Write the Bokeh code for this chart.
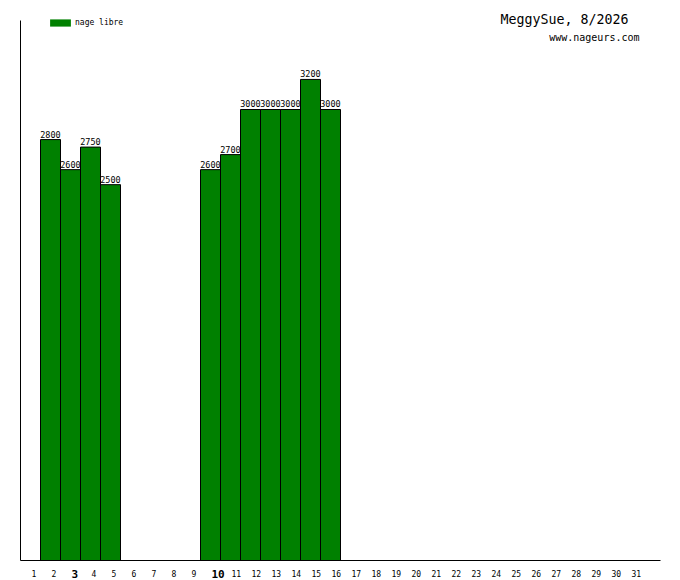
from bokeh.plotting import figure
from bokeh.models import (ColumnDataSource, LabelSet, Label, Legend, LegendItem,
                          FixedTicker, Range1d)
from bokeh.core.properties import value, field
from bokeh.embed import file_html
from bokeh.resources import INLINE

# ---- data ----
month_days = list(range(1, 32))
bold_days = [3, 10]
swim_days = [2, 3, 4, 5, 10, 11, 12, 13, 14, 15, 16]
swim_metres = [2800, 2600, 2750, 2500, 2600, 2700, 3000, 3000, 3000, 3200, 3000]
series_name = "nage libre"
title_text = "MeggySue, 8/2026"
site_text = "www.nageurs.com"
y_max = 3592

MONO = "DejaVu Sans Mono"
GREEN = "#008000"

W, H = 680, 580
PAD = 20                      # px between canvas edge and axes
PX_PER_DAY = (W - 2 * PAD) / (len(month_days) + 1)
PX_PER_M = (H - 2 * PAD) / y_max
x_lo = month_days[0] - 0.5
x_hi = month_days[-1] + 1.5

p = figure(frame_width=W, frame_height=H,
           x_range=Range1d(x_lo - PAD / PX_PER_DAY, x_hi + PAD / PX_PER_DAY),
           y_range=Range1d(-PAD / PX_PER_M, y_max + PAD / PX_PER_M),
           output_backend="svg", toolbar_location=None,
           min_border=0, min_border_left=0, min_border_right=0,
           min_border_top=0, min_border_bottom=0)
p.xgrid.grid_line_color = None
p.ygrid.grid_line_color = None
p.outline_line_color = None
p.background_fill_color = "white"
p.border_fill_color = "white"

for ax in (p.xaxis[0], p.yaxis[0]):
    ax.major_tick_line_color = None
    ax.minor_tick_line_color = None
    ax.major_tick_out = 0
    ax.major_tick_in = 0
    ax.major_label_text_font_size = "0px"
    ax.major_label_standoff = 0
    ax.axis_line_color = "black"
    ax.axis_line_width = 1
p.xaxis.ticker = FixedTicker(ticks=[])
p.yaxis.ticker = FixedTicker(ticks=[])
p.xaxis.fixed_location = 0
p.xaxis.bounds = (x_lo, x_hi)
p.yaxis.fixed_location = x_lo
p.yaxis.bounds = (0, y_max)

src = ColumnDataSource(dict(day=swim_days, metres=swim_metres,
                            label=[str(v) for v in swim_metres]))
p.vbar(x="day", top="metres", bottom=0, width=1, source=src,
       fill_color=GREEN, line_color="black", line_width=1)

p.add_layout(LabelSet(x="day", y="metres", text="label", source=src,
                      text_align="center", text_baseline="alphabetic",
                      y_offset=2, text_font=value(MONO),
                      text_font_size=value("8.5px"), text_color="black"))

tick_src = ColumnDataSource(dict(
    day=month_days,
    base=[0] * len(month_days),
    text=[str(d) for d in month_days],
    size=["11px" if d in bold_days else "8px" for d in month_days],
    style=["bold" if d in bold_days else "normal" for d in month_days],
))
p.add_layout(LabelSet(x="day", y="base", text="text", source=tick_src,
                      text_align="left", text_baseline="middle",
                      x_offset=1, y_offset=-13, text_font=value(MONO),
                      text_font_size=field("size"),
                      text_font_style=field("style"),
                      text_color="black"))

legend_src = ColumnDataSource(dict(x=[month_days[0]], top=[0]))
dummy = p.vbar(x="x", top="top", bottom=0, width=1, source=legend_src,
               fill_color=GREEN, line_color=None)
legend = Legend(items=[LegendItem(label=series_name, renderers=[dummy])],
                location=(47, 553), glyph_width=26, glyph_height=9,
                label_height=7, label_standoff=2, padding=0, margin=0,
                spacing=0, border_line_color=None, background_fill_alpha=0,
                label_text_font=MONO, label_text_font_size="8px",
                label_text_color="black")
p.add_layout(legend)

p.add_layout(Label(x=30.9, y=3597, text=title_text, text_align="right",
                   text_baseline="alphabetic", text_font=MONO,
                   text_font_size="13.3px", text_color="black"))
p.add_layout(Label(x=31.45, y=3480, text=site_text, text_align="right",
                   text_baseline="alphabetic", text_font=MONO,
                   text_font_size="10px", text_color="black"))

open("out.html", "w").write(file_html(p, INLINE))
